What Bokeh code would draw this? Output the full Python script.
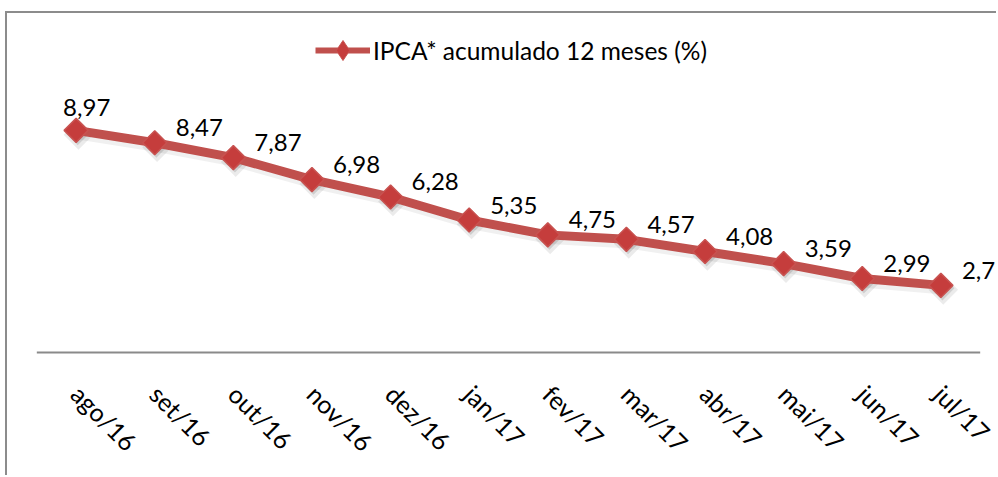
import numpy as np
from bokeh.plotting import figure
from bokeh.models import ColumnDataSource, FactorRange, Range1d, Legend, LegendItem
from bokeh.transform import dodge
from bokeh.core.properties import value
from bokeh.embed import file_html
from bokeh.resources import INLINE

# ---- data ----
months = ["ago/16", "set/16", "out/16", "nov/16", "dez/16", "jan/17",
          "fev/17", "mar/17", "abr/17", "mai/17", "jun/17", "jul/17"]
ipca = [8.97, 8.47, 7.87, 6.98, 6.28, 5.35, 4.75, 4.57, 4.08, 3.59, 2.99, 2.71]
series_name = "IPCA* acumulado 12 meses (%)"

labels = [f"{v:.2f}".replace(".", ",") for v in ipca]
x_off = [-13 if i == 0 else 21 for i in range(len(ipca))]
y_off = [-23 if i == 0 else -15 for i in range(len(ipca))]

src = ColumnDataSource(dict(x=months, y=ipca, lab=labels, xo=x_off, yo=y_off,
                            hidden=[np.nan] * len(ipca)))
base = ColumnDataSource(dict(x0=[months[0]], x1=[months[-1]], y=[0]))

RED = "#C0504D"
GRAY = "#8a8a8a"
FONT = "Lato"

p = figure(width=991, height=464,
           x_range=FactorRange(factors=months, range_padding=0.233,
                               range_padding_units="absolute"),
           y_range=Range1d(-0.081, 13.69), output_backend="svg", toolbar_location=None,
           min_border_left=11, min_border_right=0, min_border_top=0, min_border_bottom=123)
p.styles = {"border-left": "2px solid #8c8c8c", "border-top": "2px solid #8c8c8c",
            "margin-left": "5px", "margin-top": "11px"}
p.outline_line_color = None
p.background_fill_color = "white"
p.border_fill_color = "white"
p.xgrid.visible = False
p.ygrid.visible = False
p.yaxis.visible = False

ax = p.xaxis[0]
ax.axis_line_color = None
ax.major_tick_line_color = None
ax.minor_tick_line_color = None
ax.major_label_orientation = -np.pi / 4
ax.major_label_text_font = FONT
ax.major_label_text_font_size = "25px"
ax.major_label_text_color = "black"
ax.major_label_standoff = 29

# category axis baseline (spans the categories only)
p.segment(x0=dodge("x0", -0.5, range=p.x_range), y0="y",
          x1=dodge("x1", 0.5, range=p.x_range), y1="y", source=base,
          line_color=GRAY, line_width=2)

# shadows
p.line(dodge("x", 0.03, range=p.x_range), dodge("y", -0.15, range=p.y_range), source=src,
       line_color="black", line_alpha=0.06, line_width=11, line_join="round")
p.scatter(dodge("x", 0.03, range=p.x_range), dodge("y", -0.18, range=p.y_range), source=src,
          marker="square", angle=np.pi / 4, size=21, fill_color="black", fill_alpha=0.08,
          line_color=None)
p.scatter(dodge("x", 0.02, range=p.x_range), dodge("y", -0.12, range=p.y_range), source=src,
          marker="square", angle=np.pi / 4, size=17, fill_color="black", fill_alpha=0.12,
          line_color=None)

# main series
main_line = p.line("x", "y", source=src, line_color=RED, line_width=9, line_join="round")
main_mark = p.scatter("x", "y", source=src, marker="square", angle=np.pi / 4, size=17,
                      fill_color="#C53D3C", line_color="#C85250", line_width=1.5)

# data labels
p.text("x", "y", text="lab", source=src, x_offset="xo", y_offset="yo",
       text_font=value(FONT), text_font_size="24px", text_color="black",
       text_align="left", text_baseline="middle")

# legend swatches: same series with a NaN column, so nothing is drawn in the plot area
leg_line = p.line("x", "hidden", source=src, line_color=RED, line_width=6)
leg_mark = p.scatter("x", "hidden", source=src, marker="diamond",
                     fill_color="#C53D3C", line_color="#C85250", line_width=1)

legend = Legend(items=[LegendItem(label=series_name, renderers=[leg_line, leg_mark])],
                location=(297, 279), orientation="horizontal",
                glyph_width=55, glyph_height=50, label_standoff=3,
                padding=0, margin=0, spacing=0,
                border_line_color=None, background_fill_alpha=0,
                label_text_font=FONT, label_text_font_size="24.5px",
                label_text_color="black")
p.add_layout(legend, "center")

open("out.html", "w").write(file_html(p, INLINE))
